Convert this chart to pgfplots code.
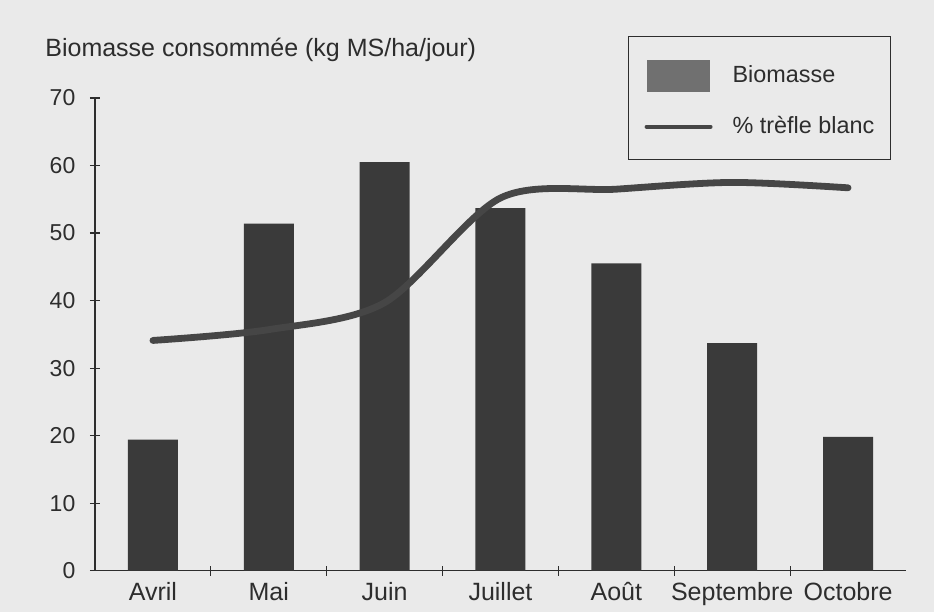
\documentclass[border=0pt]{standalone}
\usepackage{fontspec}
\setmainfont{Liberation Sans}
\usepackage{pgfplots}
\pgfplotsset{compat=1.18}
\definecolor{bg}{RGB}{234,234,234}
\definecolor{bardark}{RGB}{58,58,58}
\definecolor{legbar}{RGB}{112,112,112}
\definecolor{linecol}{RGB}{70,70,70}
\definecolor{ink}{RGB}{45,45,45}
\begin{document}
\begin{tikzpicture}
\path[use as bounding box, fill=bg] (-47.5pt,-20.65pt) rectangle (419.5pt,285.35pt);
\begin{axis}[
  scale only axis, width=405.5pt, height=236.35pt,
  xmin=-0.5, xmax=6.5, ymin=0, ymax=70,
  enlargelimits=false, clip=false,
  axis x line*=bottom, axis y line*=left,
  axis line style={ink, line width=0.6pt},
  xtick={0,...,6},
  xticklabels={Avril,Mai,Juin,Juillet,Août,Septembre,Octobre},
  major x tick style={draw=none},
  minor xtick={0.5,1.5,...,5.5},
  ytick={0,10,...,70},
  tick align=center, major tick length=5pt, minor tick length=5pt,
  tick style={ink, line width=0.6pt},
  /pgf/number format/assume math mode=true,
  yticklabel style={font=\fontsize{11.5}{13}\selectfont, text=ink, xshift=-3.8pt},
  xticklabel style={font=\fontsize{12.5}{15}\selectfont, text=ink},
  legend style={at={(rel axis cs:0.6572,1.1312)}, anchor=north west,
    draw=ink, line width=0.6pt, fill=bg,
    font=\fontsize{11.7}{14}\selectfont, text=ink,
    inner xsep=8pt, inner ysep=11.5pt, row sep=12.5pt,
    nodes={inner sep=0pt, anchor=west},
    /tikz/every odd column/.append style={column sep=10pt}},
  legend cell align=left,
]
\addplot[ybar, bar width=25pt, fill=bardark, draw=none,
  legend image code/.code={\fill[legbar] (0pt,-8pt) rectangle (31.5pt,8pt);}]
  coordinates {(0,19.4) (1,51.4) (2,60.5) (3,53.7) (4,45.5) (5,33.7) (6,19.8)};
\addlegendentry{Biomasse}
\addplot[linecol, line width=3.4pt, smooth, line cap=round,
  legend image code/.code={\draw[line width=2pt, linecol] (0pt,0pt) -- (32pt,0pt);}]
  coordinates {(0,34.1) (1,35.7) (2,39.7) (3,55.2) (4,56.5) (5,57.5) (6,56.7)};
\addlegendentry{\% trèfle blanc}
\node[anchor=base west, inner sep=0pt, font=\fontsize{12.5}{15}\selectfont, text=ink,
  xshift=-25pt, yshift=20.7pt] at (rel axis cs:0,1) {Biomasse consommée (kg MS/ha/jour)};
\end{axis}
\end{tikzpicture}
\end{document}
